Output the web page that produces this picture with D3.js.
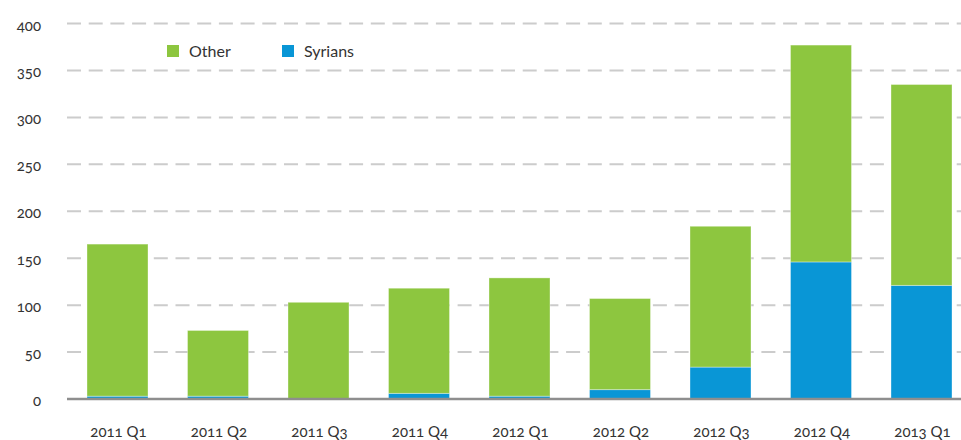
<!DOCTYPE html>
<html>
<head>
<meta charset="utf-8">
<script src="https://cdn.jsdelivr.net/npm/d3@7"></script>
<style>
  body { margin: 0; background: #fff; }
  svg { display: block; font-family: Lato, "Open Sans", sans-serif; font-variant-numeric: oldstyle-nums; }
  .tick-label { font-size: 15px; fill: #333; }
  .legend text { font-size: 16px; fill: #333; }
</style>
</head>
<body>
<div class="chart"></div>
<script>
var quarters = ['2011 Q1', '2011 Q2', '2011 Q3', '2011 Q4', '2012 Q1', '2012 Q2', '2012 Q3', '2012 Q4', '2013 Q1'];
var syrians = [3, 3, 0, 6, 3, 10, 34, 146, 121];
var totals = [165, 73, 103, 118, 129, 107, 184, 377, 335];
var yTicks = [0, 50, 100, 150, 200, 250, 300, 350, 400];

var colors = { other: '#8dc63f', syrians: '#0996d6' };

var rows = quarters.map(function(q, i) {
  return { quarter: q, syrians: syrians[i], other: totals[i] - syrians[i] };
});

var width = 961, height = 440;

var x = d3.scaleBand()
  .domain(quarters)
  .range([66.9, 972.1])
  .paddingInner(0.393)
  .paddingOuter(0.2);

var y = d3.scaleLinear()
  .domain([0, 400])
  .range([399, 23.5]);

var svg = d3.select('.chart').append('svg')
  .attr('width', width)
  .attr('height', height);

// dashed grid
svg.append('g')
  .attr('class', 'grid')
  .selectAll('line')
  .data(yTicks.filter(function(d) { return d > 0; }))
  .enter().append('line')
  .attr('x1', 67)
  .attr('x2', width)
  .attr('y1', function(d) { return y(d); })
  .attr('y2', function(d) { return y(d); })
  .attr('stroke', '#cccccc')
  .attr('stroke-width', 2)
  .attr('stroke-dasharray', '14,7.7');

svg.append('g')
  .selectAll('text')
  .data(yTicks)
  .enter().append('text')
  .attr('class', 'tick-label')
  .attr('x', 41)
  .attr('y', function(d) { return y(d) + 7; })
  .attr('text-anchor', 'end')
  .text(function(d) { return d; });

var stack = d3.stack().keys(['syrians', 'other']);

svg.append('g')
  .attr('class', 'bars')
  .selectAll('g')
  .data(stack(rows))
  .enter().append('g')
  .attr('fill', function(d) { return colors[d.key]; })
  .selectAll('rect')
  .data(function(d) { return d; })
  .enter().append('rect')
  .attr('x', function(d) { return x(d.data.quarter); })
  .attr('y', function(d) { return y(d[1]); })
  .attr('width', x.bandwidth())
  .attr('height', function(d) { return y(d[0]) - y(d[1]); })
  .attr('stroke', 'rgba(255,255,255,0.35)')
  .attr('stroke-width', 1);

// zero line
svg.append('line')
  .attr('x1', 67)
  .attr('x2', width)
  .attr('y1', y(0))
  .attr('y2', y(0))
  .attr('stroke', '#8e8e8e')
  .attr('stroke-width', 2.5);

svg.append('g')
  .selectAll('text')
  .data(quarters)
  .enter().append('text')
  .attr('class', 'tick-label')
  .attr('x', function(d) { return x(d) + x.bandwidth() / 2 + 1; })
  .attr('y', 437)
  .attr('text-anchor', 'middle')
  .text(function(d) { return d; });

var legendItems = [
  { label: 'Other', color: colors.other, x: 167 },
  { label: 'Syrians', color: colors.syrians, x: 282 }
];

var legend = svg.append('g')
  .attr('class', 'legend')
  .selectAll('g')
  .data(legendItems)
  .enter().append('g')
  .attr('transform', function(d) { return 'translate(' + d.x + ',45)'; });

legend.append('rect')
  .attr('width', 12)
  .attr('height', 12)
  .attr('fill', function(d) { return d.color; });

legend.append('text')
  .attr('x', 22)
  .attr('y', 12)
  .text(function(d) { return d.label; });
</script>
</body>
</html>
